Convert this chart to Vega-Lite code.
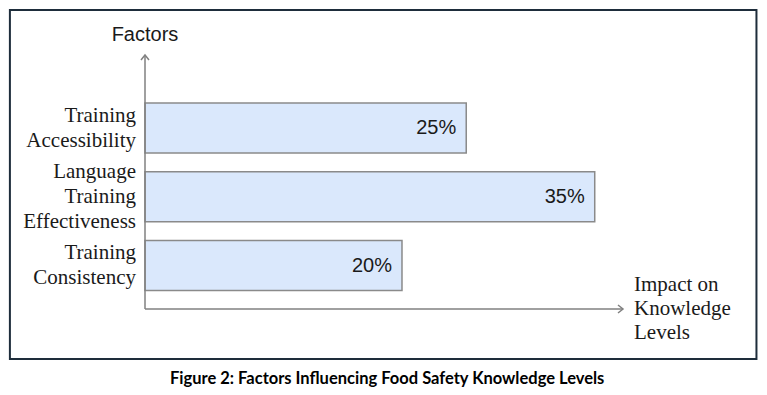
{
  "$schema": "https://vega.github.io/schema/vega-lite/v6.json",
  "autosize": "none",
  "width": 478,
  "height": 254,
  "padding": {"left": 145, "top": 55, "right": 144, "bottom": 86},
  "background": "white",
  "config": {"view": {"stroke": null}},
  "title": {
    "text": "Figure 2: Factors Influencing Food Safety Knowledge Levels",
    "orient": "bottom",
    "anchor": "middle",
    "frame": "bounds",
    "font": "Lato",
    "fontSize": 16.5,
    "fontWeight": "bold",
    "color": "#000000",
    "baseline": "alphabetic",
    "offset": 24,
    "dx": 4
  },
  "resolve": {"scale": {"y": "independent"}},
  "layer": [
    {
      "data": {
        "values": [
          {"factor": "Training\nAccessibility", "value": 0.25},
          {"factor": "Language\nTraining\nEffectiveness", "value": 0.35},
          {"factor": "Training\nConsistency", "value": 0.20}
        ]
      },
      "encoding": {
        "y": {
          "field": "factor",
          "type": "nominal",
          "sort": null,
          "scale": {"paddingInner": 0.273, "paddingOuter": 0.4836, "align": 0.722},
          "axis": null
        }
      },
      "layer": [
        {
          "mark": {"type": "bar", "fill": "#dae8fc", "stroke": "#8a8a8a", "strokeWidth": 1.5},
          "encoding": {
            "x": {
              "field": "value",
              "type": "quantitative",
              "scale": {"domain": [0, 0.372], "nice": false, "zero": false},
              "axis": null
            },
            "x2": {"datum": 0}
          }
        },
        {
          "mark": {"type": "text", "align": "right", "baseline": "middle", "dx": -10, "font": "Liberation Sans", "fontSize": 20, "color": "#1a1a1a"},
          "encoding": {
            "x": {"field": "value", "type": "quantitative"},
            "text": {"field": "value", "type": "quantitative", "format": ".0%"}
          }
        },
        {
          "transform": [{"filter": {"field": "factor", "oneOf": ["Training\nAccessibility", "Training\nConsistency"]}}],
          "mark": {"type": "text", "align": "right", "baseline": "middle", "dx": -9, "dy": -12.5, "font": "Liberation Serif", "fontSize": 21, "lineHeight": 25, "lineBreak": "\n", "color": "#1a1a1a"},
          "encoding": {
            "x": {"datum": 0, "type": "quantitative"},
            "text": {"field": "factor", "type": "nominal"}
          }
        },
        {
          "transform": [{"filter": {"field": "factor", "oneOf": ["Language\nTraining\nEffectiveness"]}}],
          "mark": {"type": "text", "align": "right", "baseline": "middle", "dx": -9, "dy": -25, "font": "Liberation Serif", "fontSize": 21, "lineHeight": 25, "lineBreak": "\n", "color": "#1a1a1a"},
          "encoding": {
            "x": {"datum": 0, "type": "quantitative"},
            "text": {"field": "factor", "type": "nominal"}
          }
        }
      ]
    },
    {
      "data": {"values": [{}]},
      "encoding": {
        "y": {
          "datum": 0,
          "type": "quantitative",
          "scale": {"domain": [0, 1], "nice": false, "zero": false},
          "axis": null
        }
      },
      "layer": [
        {
          "mark": {"type": "rect", "fill": null, "stroke": "#1e2d3b", "strokeWidth": 2},
          "encoding": {
            "x": {"datum": -0.10514, "type": "quantitative"},
            "x2": {"datum": 0.47586},
            "y": {"datum": -0.19685, "type": "quantitative"},
            "y2": {"datum": 1.17717}
          }
        },
        {
          "mark": {"type": "rule", "stroke": "#808080", "strokeWidth": 1.5},
          "encoding": {
            "x": {"datum": 0, "type": "quantitative"},
            "x2": {"datum": 0.372}
          }
        },
        {
          "mark": {"type": "rule", "stroke": "#808080", "strokeWidth": 1.5},
          "encoding": {
            "x": {"datum": 0, "type": "quantitative"},
            "y2": {"datum": 1}
          }
        },
        {
          "mark": {"type": "point", "shape": "M-1.25,-1L0,0L-1.25,1", "size": 64, "filled": false, "stroke": "#808080", "strokeWidth": 1.5, "opacity": 1},
          "encoding": {
            "x": {"datum": 0.372, "type": "quantitative"}
          }
        },
        {
          "mark": {"type": "point", "shape": "M-1,1.25L0,0L1,1.25", "size": 64, "filled": false, "stroke": "#808080", "strokeWidth": 1.5, "opacity": 1},
          "encoding": {
            "x": {"datum": 0, "type": "quantitative"},
            "y": {"datum": 1, "type": "quantitative"}
          }
        },
        {
          "mark": {"type": "text", "align": "center", "baseline": "alphabetic", "dy": -14, "font": "Liberation Sans", "fontSize": 20, "color": "#1a1a1a", "text": "Factors"},
          "encoding": {
            "x": {"datum": 0, "type": "quantitative"},
            "y": {"datum": 1, "type": "quantitative"}
          }
        },
        {
          "mark": {"type": "text", "align": "left", "baseline": "alphabetic", "dx": 11, "dy": -18, "font": "Liberation Serif", "fontSize": 21, "lineHeight": 24, "color": "#1a1a1a", "text": ["Impact on", "Knowledge", "Levels"]},
          "encoding": {
            "x": {"datum": 0.372, "type": "quantitative"}
          }
        }
      ]
    }
  ]
}
